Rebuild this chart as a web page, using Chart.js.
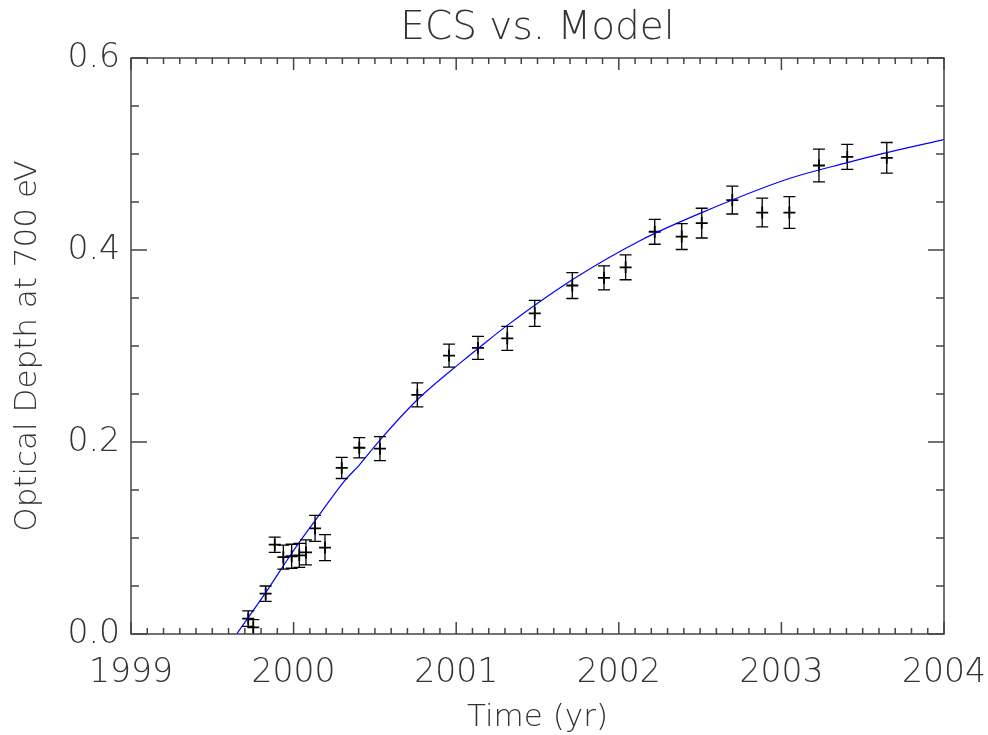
<!DOCTYPE html>
<html>
<head>
<meta charset="utf-8">
<script src="https://cdn.jsdelivr.net/npm/chart.js@4"></script>
<style>
body{margin:0;background:#fff;}
</style>
</head>
<body>
<canvas id="c" width="988" height="735"></canvas>
<script>
// measured points (ECS)
const obsYear=[1999.721,1999.752,1999.828,1999.884,1999.937,1999.988,2000.035,2000.076,2000.132,2000.193,
2000.296,2000.404,2000.531,2000.761,2000.956,2001.134,2001.314,2001.483,2001.714,2001.909,
2002.042,2002.221,2002.387,2002.510,2002.698,2002.882,2003.049,2003.231,2003.405,2003.648];
const obsDepth=[0.016,0.007,0.042,0.093,0.080,0.081,0.082,0.085,0.110,0.090,
0.173,0.194,0.193,0.249,0.290,0.298,0.308,0.334,0.363,0.371,
0.382,0.419,0.414,0.428,0.452,0.439,0.439,0.488,0.497,0.496];
const obsErr=[0.008,0.008,0.008,0.008,0.0125,0.0125,0.0125,0.013,0.0135,0.0135,
0.011,0.0105,0.0125,0.0125,0.012,0.012,0.0125,0.0135,0.0135,0.0125,
0.013,0.013,0.0135,0.0155,0.0145,0.015,0.0165,0.017,0.013,0.016];

// model curve
const modelYear=[1999.65,1999.824,2000.0,2000.132,2000.316,2000.404,2000.531,2000.761,2001.044,2001.146,
2001.314,2001.714,2002.13,2002.51,2003.053,2003.405,2003.648,2004.0];
const modelDepth=[0.0,0.042,0.087,0.118,0.160,0.176,0.202,0.244,0.285,0.299,
0.3215,0.369,0.4097,0.4389,0.4747,0.491,0.5014,0.515];

const yearTicks=[1999,2000,2001,2002,2003,2004];
const depthTicks=[0.0,0.2,0.4,0.6];

const FONT="'DejaVu Sans', sans-serif";

// IDL style box with inward ticks on all sides
const boxTicks={
id:'boxTicks',
afterDraw(chart){
let ctx=chart.ctx, a=chart.chartArea, x=chart.scales.x, y=chart.scales.y;
ctx.save();
ctx.strokeStyle='#444';
ctx.lineWidth=1.5;
ctx.strokeRect(a.left,a.top,a.right-a.left,a.bottom-a.top);
ctx.beginPath();
for(let i=0;i<=50;i++){
let px=x.getPixelForValue(1999+i*0.1);
let len=i%10===0?12:6;
ctx.moveTo(px,a.bottom);ctx.lineTo(px,a.bottom-len);
ctx.moveTo(px,a.top);ctx.lineTo(px,a.top+len);
}
for(let i=0;i<=12;i++){
let py=y.getPixelForValue(i*0.05);
let len=i%4===0?16:8;
ctx.moveTo(a.left,py);ctx.lineTo(a.left+len,py);
ctx.moveTo(a.right,py);ctx.lineTo(a.right-len,py);
}
ctx.stroke();
ctx.restore();
}
};

const errorBars={
id:'errorBars',
afterDatasetsDraw(chart){
let ctx=chart.ctx, a=chart.chartArea, x=chart.scales.x, y=chart.scales.y;
ctx.save();
ctx.beginPath();
ctx.rect(a.left,a.top,a.right-a.left,a.bottom-a.top);
ctx.clip();
ctx.strokeStyle='#000';
ctx.lineWidth=1.3;
ctx.beginPath();
obsYear.forEach((t,i)=>{
let px=x.getPixelForValue(t);
let hi=y.getPixelForValue(obsDepth[i]+obsErr[i]);
let lo=y.getPixelForValue(obsDepth[i]-obsErr[i]);
ctx.moveTo(px,hi);ctx.lineTo(px,lo);
ctx.moveTo(px-6,hi);ctx.lineTo(px+6,hi);
ctx.moveTo(px-6,lo);ctx.lineTo(px+6,lo);
});
ctx.stroke();
ctx.restore();
}
};

new Chart(document.getElementById('c'),{
type:'scatter',
data:{
datasets:[
{
label:'Model',
data:modelYear.map((t,i)=>({x:t,y:modelDepth[i]})),
showLine:true,
borderColor:'#0000ff',
borderWidth:1.2,
pointRadius:0,
cubicInterpolationMode:'monotone'
},
{
label:'ECS',
data:obsYear.map((t,i)=>({x:t,y:obsDepth[i]})),
pointStyle:'cross',
pointRadius:6,
borderColor:'#000',
backgroundColor:'#000',
borderWidth:1.8
}
]
},
options:{
responsive:false,
animation:false,
devicePixelRatio:1,
layout:{padding:{left:0,right:44,top:0,bottom:0}},
plugins:{
legend:{display:false},
tooltip:{enabled:false},
title:{
display:true,
text:'ECS vs. Model',
fullSize:false,
color:'#333',
font:{family:FONT,size:39,weight:'200',lineHeight:1.2},
padding:{top:5,bottom:6.2}
}
},
scales:{
x:{
type:'linear',
min:1999,max:2004,
afterBuildTicks:s=>{s.ticks=yearTicks.map(v=>({value:v}));},
afterFit:s=>{s.height=101;s.paddingLeft=0;s.paddingRight=0;},
grid:{display:false,drawTicks:false},
border:{display:false},
ticks:{
padding:20,
color:'#333',
font:{family:FONT,size:33,weight:'200'},
callback:v=>String(v),
maxRotation:0
},
title:{
display:true,
text:'Time (yr)',
color:'#333',
font:{family:FONT,size:31,weight:'200'},
padding:{top:0,bottom:-2}
}
},
y:{
type:'linear',
min:0,max:0.6,
afterBuildTicks:s=>{s.ticks=depthTicks.map(v=>({value:v}));},
afterFit:s=>{s.width=131;s.paddingTop=0;s.paddingBottom=0;},
grid:{display:false,drawTicks:false},
border:{display:false},
ticks:{
padding:11,
color:'#333',
font:{family:FONT,size:33,weight:'200'},
callback:v=>Number(v).toFixed(1)
},
title:{
display:true,
text:'Optical Depth at 700 eV',
color:'#333',
font:{family:FONT,size:31,weight:'200'},
padding:{top:9,bottom:0}
}
}
}
},
plugins:[boxTicks,errorBars]
});
</script>
</body>
</html>
